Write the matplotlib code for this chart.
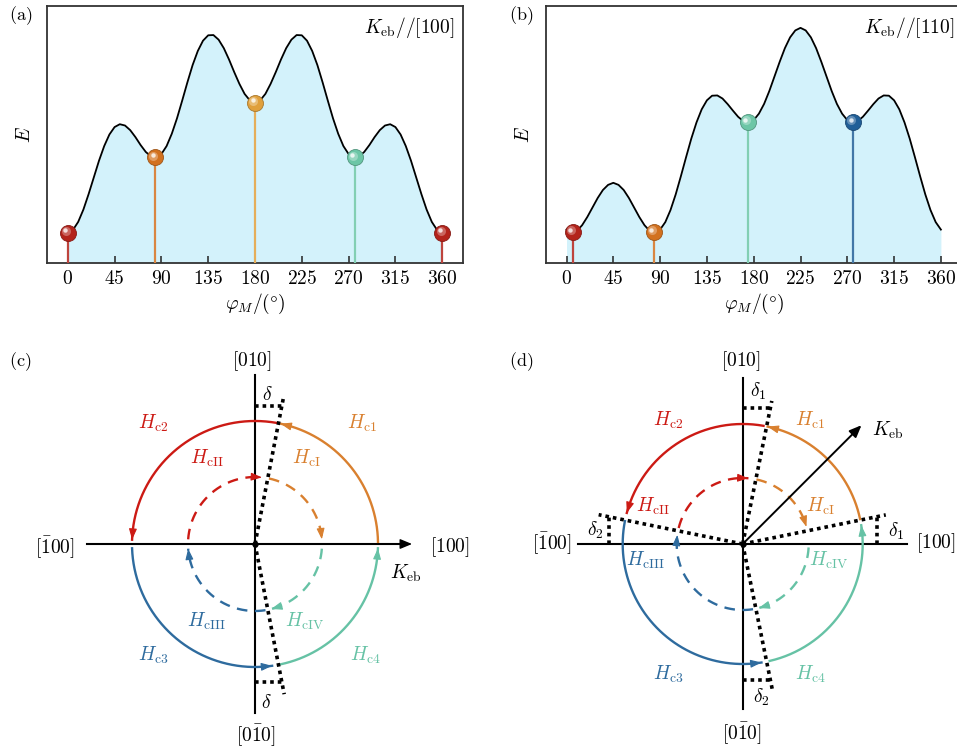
import numpy as np
import matplotlib
matplotlib.use('Agg')
import matplotlib.pyplot as plt
from matplotlib.patches import FancyArrowPatch, ArrowStyle
from matplotlib import transforms
import matplotlib.colors as mcolors

plt.rcParams['mathtext.fontset'] = 'cm'
plt.rcParams['font.family'] = ['DejaVu Serif']

W, H = 957, 751

# ---------------- data: energy curves ----------------
phi = list(range(0, 361, 5))
E_a = [0.118, 0.129, 0.160, 0.208, 0.268, 0.333, 0.398, 0.455, 0.500, 0.529,
       0.540, 0.535, 0.517, 0.490, 0.459, 0.432, 0.415, 0.411, 0.424, 0.455,
       0.503, 0.563, 0.632, 0.703, 0.770, 0.825, 0.865, 0.886, 0.887, 0.869,
       0.836, 0.792, 0.743, 0.697, 0.658, 0.633, 0.624, 0.633, 0.658, 0.697,
       0.743, 0.792, 0.836, 0.869, 0.887, 0.886, 0.865, 0.825, 0.770, 0.703,
       0.632, 0.563, 0.503, 0.455, 0.424, 0.411, 0.415, 0.432, 0.459, 0.490,
       0.517, 0.535, 0.540, 0.529, 0.500, 0.455, 0.398, 0.333, 0.268, 0.208,
       0.160, 0.129, 0.118]
E_b = [0.130, 0.119, 0.125, 0.147, 0.179, 0.216, 0.253, 0.284, 0.304, 0.312,
       0.304, 0.284, 0.253, 0.216, 0.179, 0.147, 0.125, 0.119, 0.130, 0.159,
       0.206, 0.267, 0.338, 0.412, 0.484, 0.547, 0.598, 0.633, 0.651, 0.652,
       0.640, 0.618, 0.593, 0.569, 0.552, 0.547, 0.556, 0.581, 0.619, 0.669,
       0.726, 0.783, 0.836, 0.878, 0.905, 0.915, 0.905, 0.878, 0.836, 0.783,
       0.726, 0.669, 0.619, 0.581, 0.556, 0.547, 0.552, 0.569, 0.593, 0.618,
       0.640, 0.652, 0.651, 0.633, 0.598, 0.547, 0.484, 0.412, 0.338, 0.267,
       0.206, 0.159, 0.130]

RED = '#b3231b'
ORANGE = '#d2711f'
GOLD = '#e0a03c'
GREEN = '#6cc6a6'
BLUE = '#215f98'

mk_a_phi = [0, 84, 180, 276, 360]
mk_a_E = [0.118, 0.411, 0.624, 0.411, 0.118]
mk_a_col = [RED, ORANGE, GOLD, GREEN, RED]

mk_b_phi = [6, 84, 174.5, 275.5]
mk_b_E = [0.120, 0.120, 0.548, 0.548]
mk_b_col = [RED, ORANGE, GREEN, BLUE]

xticks = [0, 45, 90, 135, 180, 225, 270, 315, 360]

# ---------------- data: switching diagrams ----------------
C_RED = '#cc1a14'
C_ORANGE = '#d9802f'
C_BLUE = '#2e6b9e'
C_GREEN = '#66c2a5'

# panel (c)
c_R_out, c_R_in = 123, 67
c_delta = 11.0
c_outer = [(C_ORANGE, 1, 78), (C_RED, 80, 178), (C_BLUE, 182, 278), (C_GREEN, 282, 358)]
c_inner = [(C_ORANGE, 78, 4), (C_RED, 176, 84), (C_BLUE, 279, 184), (C_GREEN, 356, 284)]
c_dotted = [(90 - c_delta, 150), (-90 + c_delta, 153)]
c_labels_out = ['$H_{\\rm c1}$', '$H_{\\rm c2}$', '$H_{\\rm c3}$', '$H_{\\rm c4}$']
c_labels_in = ['$H_{\\rm cI}$', '$H_{\\rm cII}$', '$H_{\\rm cIII}$', '$H_{\\rm cIV}$']

# panel (d)
d_R_out, d_R_in = 120, 66
d_delta1, d_delta2 = 11.5, 11.5
d_outer = [(C_ORANGE, 12, 78), (C_RED, 80, 165), (C_BLUE, 169, 279), (C_GREEN, 283, 369)]
d_inner = [(C_ORANGE, 78, 15), (C_RED, 166, 85), (C_BLUE, 279, 172), (C_GREEN, 357, 284)]
d_dotted = [(90 - d_delta1, 146), (d_delta1, 146), (180 - d_delta2, 147), (-90 + d_delta2, 148)]
d_keb_angle, d_keb_len = 45, 168

fig = plt.figure(figsize=(W / 100, H / 100), dpi=100)


def px_axes(left, top, right, bottom):
    return fig.add_axes([left / W, 1 - bottom / H, (right - left) / W, (bottom - top) / H])


def blend(col, f):
    r, g, b = mcolors.to_rgb(col)
    if f >= 0:
        return (r + (1 - r) * f, g + (1 - g) * f, b + (1 - b) * f)
    f = -f
    return (r * (1 - f), g * (1 - f), b * (1 - f))


def ball(ax, x, y, col):
    ax.vlines(x, 0, y, color=blend(col, 0.15), lw=1.6, zorder=3)
    ax.plot([x], [y], 'o', ms=11.5, mfc=col, mec=blend(col, -0.25), mew=0.6,
            zorder=5, clip_on=False)
    t1 = transforms.offset_copy(ax.transData, fig=fig, x=-1.2, y=1.2, units='points')
    ax.plot([x], [y], 'o', ms=6.5, mfc=blend(col, 0.3), mec='none', transform=t1,
            zorder=6, clip_on=False)
    t2 = transforms.offset_copy(ax.transData, fig=fig, x=-1.8, y=1.8, units='points')
    ax.plot([x], [y], 'o', ms=3.2, mfc=blend(col, 0.85), mec='none', transform=t2,
            zorder=7, clip_on=False)


def energy_panel(ax, E, mphi, mE, mcol):
    ax.fill_between(phi, 0, E, color='#d3f2fb', lw=0, zorder=1)
    ax.plot(phi, E, color='k', lw=1.3, zorder=2)
    for x, y, c in zip(mphi, mE, mcol):
        ball(ax, x, y, c)
    ax.set_xlim(-20, 380)
    ax.set_ylim(0, 1)
    ax.set_xticks(xticks)
    ax.set_xticklabels(['$%d$' % t for t in xticks])
    ax.set_yticks([])
    ax.tick_params(axis='x', direction='in', length=5, width=1.1, labelsize=14, pad=5,
                   color='#222222')
    for s in ax.spines.values():
        s.set_linewidth(1.3)
        s.set_color('#333333')
    ax.set_xlabel(r'$\varphi_M/(\degree)$', fontsize=14, labelpad=3)
    ax.set_ylabel(r'$E$', fontsize=14, labelpad=9)


ax_a = px_axes(47, 6, 463, 263)
energy_panel(ax_a, E_a, mk_a_phi, mk_a_E, mk_a_col)
fig.text(454 / W, 1 - 28 / H, r'$K_{\rm eb}//[100]$', fontsize=14, ha='right', va='center')

ax_b = px_axes(545.7, 6, 961.7, 263)
energy_panel(ax_b, E_b, mk_b_phi, mk_b_E, mk_b_col)
fig.text(954 / W, 1 - 28 / H, r'$K_{\rm eb}//[110]$', fontsize=14, ha='right', va='center')

for lab, x, y in [('(a)', 9, 16), ('(b)', 509, 16), ('(c)', 9, 362), ('(d)', 509, 362)]:
    fig.text(x / W, 1 - y / H, r'$\mathrm{%s}$' % lab, fontsize=13, ha='left', va='center')


def pol(r, a):
    a = np.deg2rad(a)
    return r * np.cos(a), r * np.sin(a)


def arrowhead(ax, r, a_end, a_dir, col):
    tip = pol(r, a_end)
    tail = pol(r, a_end - a_dir * 5)
    ax.add_patch(FancyArrowPatch(tail, tip, arrowstyle=ArrowStyle('-|>', head_length=0.55, head_width=0.2),
                                 mutation_scale=12, color=col, lw=0.8, shrinkA=0, shrinkB=0, zorder=4))


def arc(ax, r, a0, a1, col, dashed):
    a = np.linspace(a0, a1, 200)
    x, y = pol(r, a)
    if dashed:
        ax.plot(x, y, color=col, lw=1.7, ls=(0, (4.5, 3.2)), zorder=3, dash_capstyle='butt')
    else:
        ax.plot(x, y, color=col, lw=1.7, zorder=3)
    arrowhead(ax, r, a1, np.sign(a1 - a0), col)


def dotted(ax, x, y):
    ax.plot(x, y, color='k', lw=2.6, ls=(0, (1, 1.1)), dash_capstyle='butt', zorder=4)


def axis_lines(ax, hx, vy, arrow_right):
    if arrow_right:
        ax.plot([hx[0], hx[1] - 4], [0, 0], color='k', lw=1.5, zorder=2)
        ax.add_patch(FancyArrowPatch((hx[1] - 10, 0), (hx[1], 0),
                                     arrowstyle=ArrowStyle('-|>', head_length=0.6, head_width=0.25),
                                     mutation_scale=12, color='k', lw=1, shrinkA=0, shrinkB=0))
    else:
        ax.plot(hx, [0, 0], color='k', lw=1.5, zorder=2)
    ax.plot([0, 0], vy, color='k', lw=1.5, zorder=2)
    ax.plot([0], [0], 'o', color='k', ms=3.5, zorder=5)


TXT = dict(fontsize=14, ha='center', va='center')

# ---------------- panel (c) ----------------
ax_c = px_axes(0, 340, 480, 751)
ax_c.set_xlim(-255, 225)
ax_c.set_ylim(-207, 204)
ax_c.axis('off')
axis_lines(ax_c, (-168, 157), (169, -169), True)
for col, a0, a1 in c_outer:
    arc(ax_c, c_R_out, a0, a1, col, False)
for col, a0, a1 in c_inner:
    arc(ax_c, c_R_in, a0, a1, col, True)
for ang, L in c_dotted:
    x, y = pol(L, ang)
    dotted(ax_c, [0, x], [0, y])
t = np.tan(np.deg2rad(c_delta))
dotted(ax_c, [0, 138 * t], [138, 138])
dotted(ax_c, [0, 138 * t], [-138, -138])
ax_c.text(12.7, 149, r'$\delta$', **TXT)
ax_c.text(11.7, -158.7, r'$\delta$', **TXT)
ax_c.text(106.7, 120.7, c_labels_out[0], color=C_ORANGE, **TXT)
ax_c.text(-102.3, 120.7, c_labels_out[1], color=C_RED, **TXT)
ax_c.text(-101.7, -111, c_labels_out[2], color=C_BLUE, **TXT)
ax_c.text(110, -111, c_labels_out[3], color=C_GREEN, **TXT)
ax_c.text(51, 85.7, c_labels_in[0], color=C_ORANGE, **TXT)
ax_c.text(-47.7, 85.7, c_labels_in[1], color=C_RED, **TXT)
ax_c.text(-48.3, -77.7, c_labels_in[2], color=C_BLUE, **TXT)
ax_c.text(50, -77.7, c_labels_in[3], color=C_GREEN, **TXT)
ax_c.text(-2.7, 183.3, r'$[010]$', **TXT)
ax_c.text(0.7, -191, r'$[0\bar{1}0]$', **TXT)
ax_c.text(-200, -3.3, r'$[\bar{1}00]$', **TXT)
ax_c.text(195, -3.3, r'$[100]$', **TXT)
ax_c.text(151, -29.3, r'$K_{\rm eb}$', **TXT)

# ---------------- panel (d) ----------------
ax_d = px_axes(480, 340, 957, 751)
ax_d.set_xlim(-262.7, 214.3)
ax_d.set_ylim(-207, 204)
ax_d.axis('off')
axis_lines(ax_d, (-164.4, 164.6), (165.7, -165.3), False)
for col, a0, a1 in d_outer:
    arc(ax_d, d_R_out, a0, a1, col, False)
for col, a0, a1 in d_inner:
    arc(ax_d, d_R_in, a0, a1, col, True)
for ang, L in d_dotted:
    x, y = pol(L, ang)
    dotted(ax_d, [0, x], [0, y])
t1 = np.tan(np.deg2rad(d_delta1))
t2 = np.tan(np.deg2rad(d_delta2))
dotted(ax_d, [0, 136 * t1], [136, 136])
dotted(ax_d, [134, 134], [0, 134 * t1])
dotted(ax_d, [-134, -134], [0, 134 * t2])
dotted(ax_d, [0, 136 * t2], [-136, -136])
kx, ky = pol(d_keb_len, d_keb_angle)
ax_d.add_patch(FancyArrowPatch((0, 0), (kx, ky), arrowstyle=ArrowStyle('-|>', head_length=0.6, head_width=0.25),
                               mutation_scale=12, color='k', lw=1.4, shrinkA=0, shrinkB=0, zorder=4))
ax_d.text(15.6, 152.3, r'$\delta_1$', **TXT)
ax_d.text(153.3, 12.3, r'$\delta_1$', **TXT)
ax_d.text(-147.7, 14, r'$\delta_2$', **TXT)
ax_d.text(18.3, -153.3, r'$\delta_2$', **TXT)
ax_d.text(67.3, 123.3, c_labels_out[0], color=C_ORANGE, **TXT)
ax_d.text(-74.4, 123.3, c_labels_out[1], color=C_RED, **TXT)
ax_d.text(-74.4, -130.3, c_labels_out[2], color=C_BLUE, **TXT)
ax_d.text(67.3, -130.3, c_labels_out[3], color=C_GREEN, **TXT)
ax_d.text(78, 37.3, c_labels_in[0], color=C_ORANGE, **TXT)
ax_d.text(-89.4, 37.3, c_labels_in[1], color=C_RED, **TXT)
ax_d.text(-97.7, -16.7, c_labels_in[2], color=C_BLUE, **TXT)
ax_d.text(86.3, -16.7, c_labels_in[3], color=C_GREEN, **TXT)
ax_d.text(-2, 183.3, r'$[010]$', **TXT)
ax_d.text(-1, -188.7, r'$[0\bar{1}0]$', **TXT)
ax_d.text(-191, 1.3, r'$[\bar{1}00]$', **TXT)
ax_d.text(193.3, 1.3, r'$[100]$', **TXT)
ax_d.text(145.6, 113.3, r'$K_{\rm eb}$', **TXT)

fig.savefig('out.png', dpi=100)
